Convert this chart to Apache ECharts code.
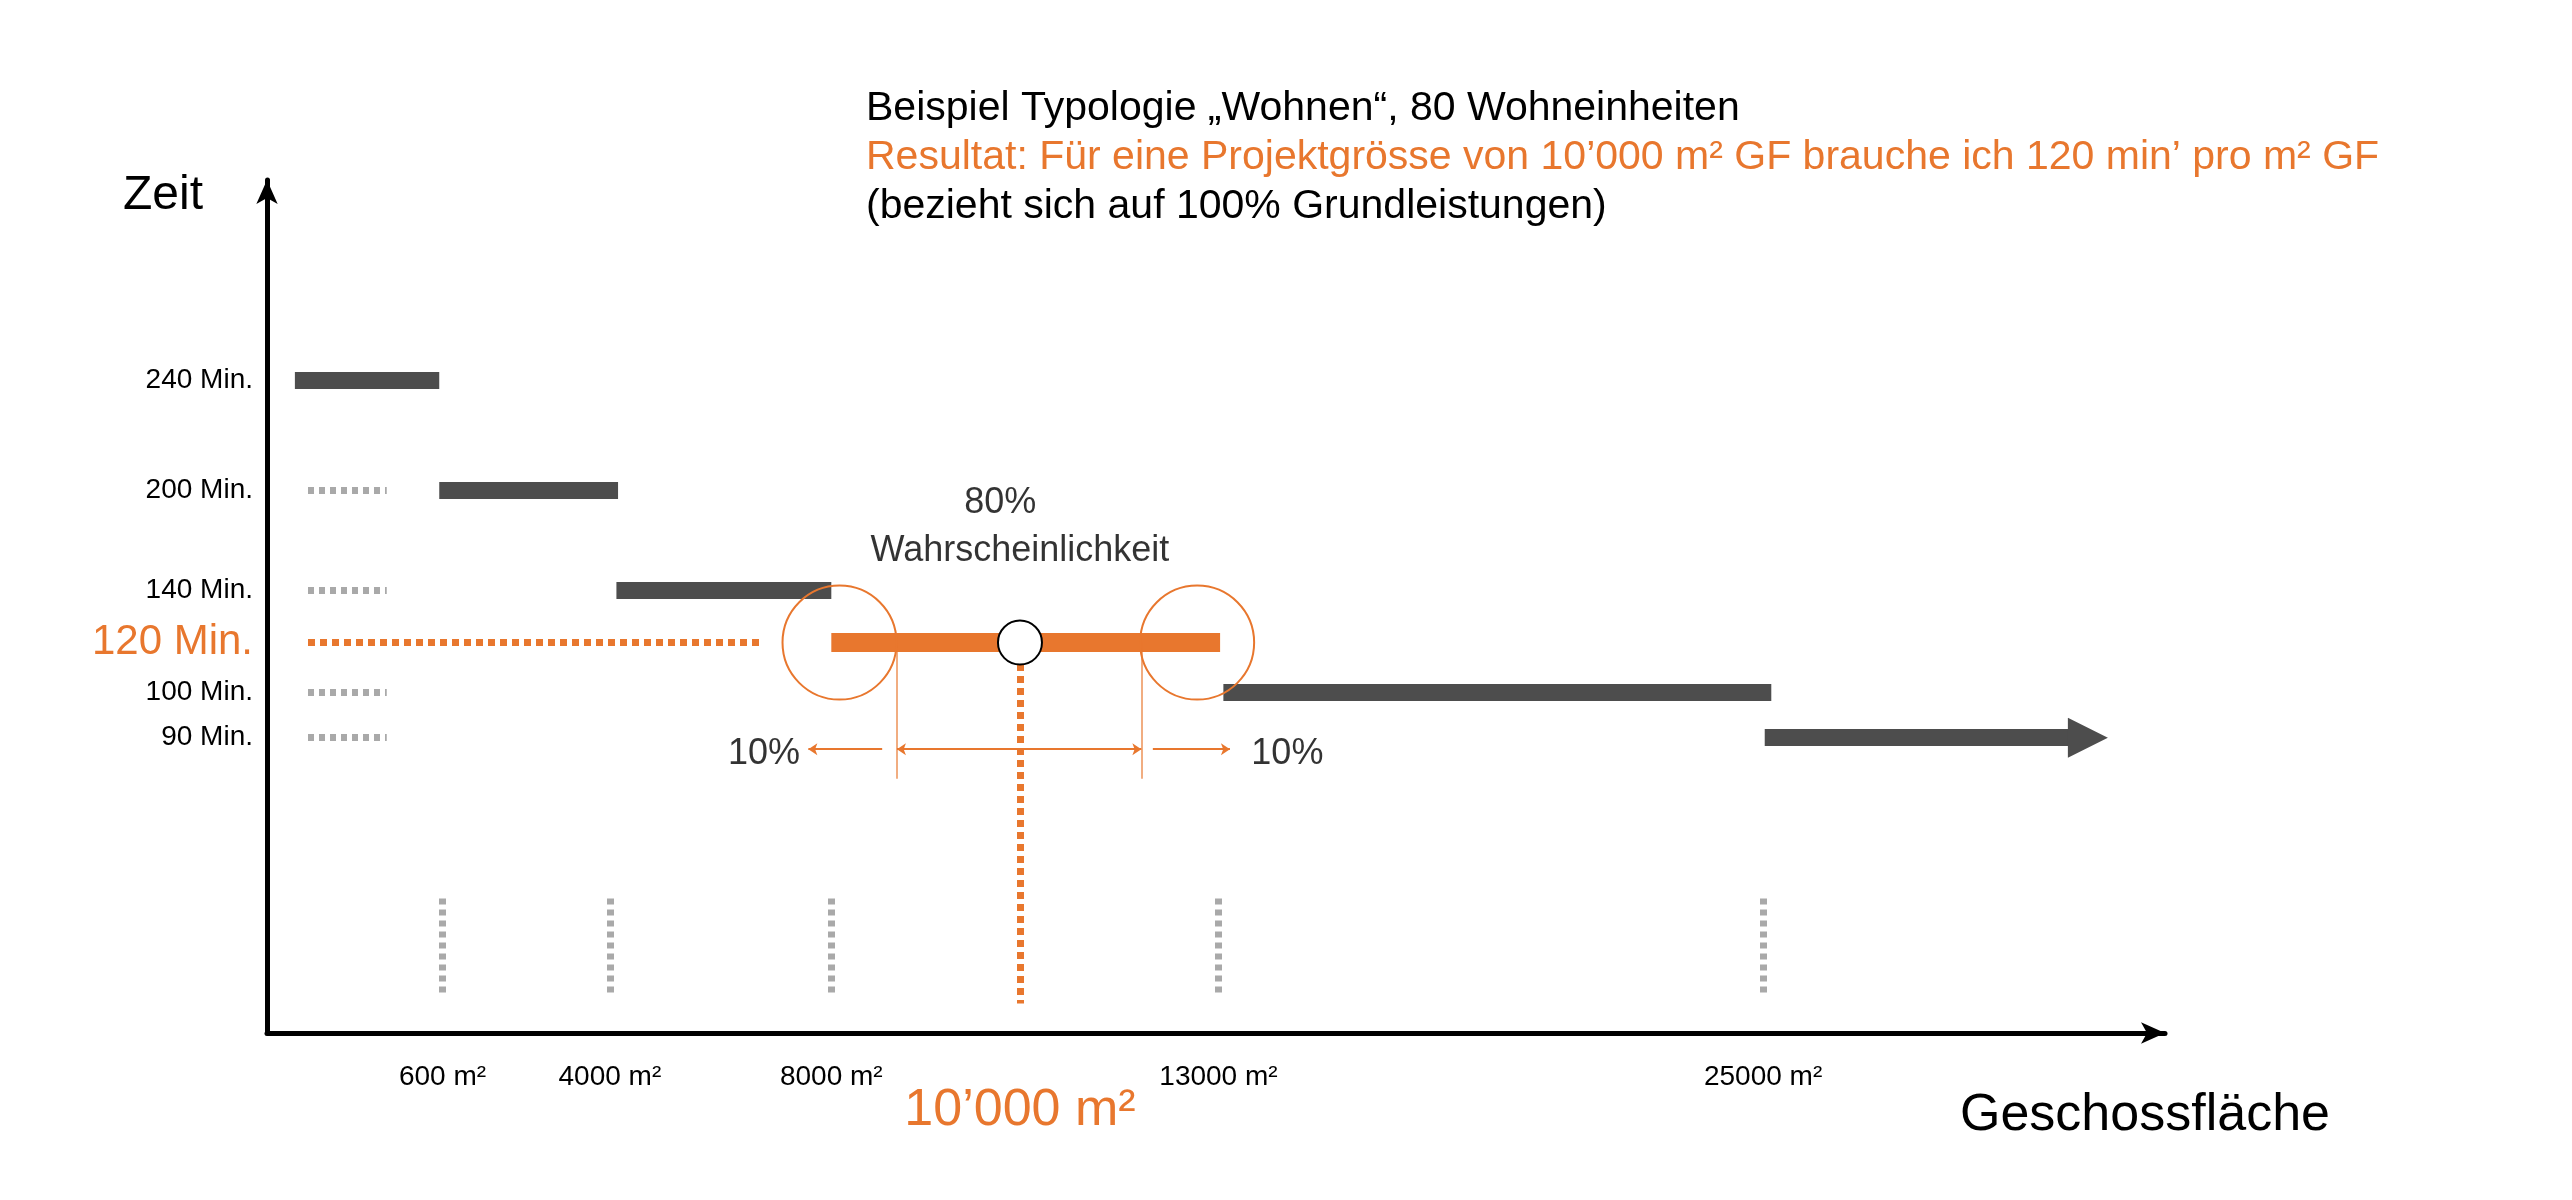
<!DOCTYPE html>
<html>
<head>
<meta charset="utf-8">
<script src="https://cdn.jsdelivr.net/npm/echarts@6/dist/echarts.min.js"></script>
<style>html,body{margin:0;background:#fff}#chart{width:2572px;height:1200px}</style>
</head>
<body>
<div id="chart"></div>
<script>
// schematic units (the drawing is not to scale)
const xBreaks = [107, 209, 344, 459, 580, 912];
const xLabels = ['600 m²', '4000 m²', '8000 m²', '10’000 m²', '13000 m²', '25000 m²'];
const yLevels = [398, 331, 270, 238, 208, 180];
const yLabels = ['240 Min.', '200 Min.', '140 Min.', '120 Min.', '100 Min.', '90 Min.'];

// steps: [x start, x end, y]
const steps = [[17, 105, 398], [105, 214, 331], [213, 344, 270], [583, 917, 208]];
const lastStep = [913, 1110, 180];
const resultBar = [344, 581, 238];
const guideLeft = [[25, 73, 331], [25, 73, 270], [25, 73, 208], [25, 73, 180]];
const guideResult = [25, 302, 238];
const guideDown = [107, 209, 344, 580, 912];
const rangeCircles = [[349, 238], [567, 238]];
const probBounds = [384, 533];

const ORANGE = '#e8772e', DARK = '#4d4d4d', LIGHT = '#a9a9a9';
const FONT = '"Liberation Sans", Arial, sans-serif';

const chart = echarts.init(document.getElementById('chart'));

function seg(x1, x2, y) { return { coords: [[x1, y], [x2, y]] }; }

const textPts = [
  { value: [447, 323], label: { formatter: '80%' } },
  { value: [459, 294], label: { formatter: 'Wahrscheinlichkeit' } },
  { value: [303, 170], label: { formatter: '10%' } },
  { value: [622, 170], label: { formatter: '10%' } }
];

chart.setOption({
  animation: false,
  grid: { left: 267, top: 180, width: 1898, height: 853 },
  xAxis: {
    type: 'value', min: 0, max: 1157,
    splitLine: { show: false },
    axisLine: { lineStyle: { color: '#000', width: 5 }, symbol: ['none', 'arrow'], symbolSize: [16, 24] },
    axisTick: { show: false },
    axisLabel: {
      customValues: xBreaks, margin: 30, fontFamily: FONT, fontSize: 28, color: '#000',
      formatter: v => {
        const i = xBreaks.indexOf(v);
        return i === 3 ? '{o|' + xLabels[i] + '}' : xLabels[i];
      },
      rich: { o: { color: ORANGE, fontSize: 52, fontFamily: FONT, padding: [22, 0, 0, 0] } }
    }
  },
  yAxis: {
    type: 'value', min: 0, max: 520,
    splitLine: { show: false },
    axisLine: { lineStyle: { color: '#000', width: 5 }, symbol: ['none', 'arrow'], symbolSize: [16, 24] },
    axisTick: { show: false },
    axisLabel: {
      customValues: yLevels, margin: 14, fontFamily: FONT, fontSize: 28, color: '#000',
      formatter: v => {
        const i = yLevels.indexOf(v);
        return i === 3 ? '{o|' + yLabels[i] + '}' : yLabels[i];
      },
      rich: { o: { color: ORANGE, fontSize: 42, fontFamily: FONT } }
    }
  },
  series: [
    { type: 'lines', coordinateSystem: 'cartesian2d', silent: true,
      lineStyle: { color: DARK, width: 17, opacity: 1 },
      data: steps.map(s => seg(s[0], s[1], s[2])) },
    { type: 'lines', coordinateSystem: 'cartesian2d', silent: true,
      symbol: ['none', 'triangle'], symbolSize: 40,
      lineStyle: { color: DARK, width: 17, opacity: 1 },
      data: [seg(lastStep[0], lastStep[1], lastStep[2])] },
    { type: 'lines', coordinateSystem: 'cartesian2d', silent: true,
      lineStyle: { color: LIGHT, width: 7, type: [6, 5], opacity: 1 },
      data: guideLeft.map(s => seg(s[0], s[1], s[2]))
        .concat(guideDown.map(x => ({ coords: [[x, 82], [x, 23]] }))) },
    { type: 'lines', coordinateSystem: 'cartesian2d', silent: true,
      lineStyle: { color: ORANGE, width: 7, type: [7, 5], opacity: 1 },
      data: [seg(guideResult[0], guideResult[1], guideResult[2]), { coords: [[459, 225], [459, 18]] }] },
    { type: 'lines', coordinateSystem: 'cartesian2d', silent: true,
      lineStyle: { color: ORANGE, width: 19, opacity: 1 },
      data: [seg(resultBar[0], resultBar[1], resultBar[2])] },
    { type: 'lines', coordinateSystem: 'cartesian2d', silent: true,
      lineStyle: { color: ORANGE, width: 1.5, opacity: 0.8 },
      data: probBounds.map(x => ({ coords: [[x, 238], [x, 155]] })) },
    { type: 'lines', coordinateSystem: 'cartesian2d', silent: true,
      symbol: ['arrow', 'arrow'], symbolSize: 9,
      lineStyle: { color: ORANGE, width: 2, opacity: 1 },
      data: [seg(probBounds[0], probBounds[1], 173)] },
    { type: 'lines', coordinateSystem: 'cartesian2d', silent: true,
      symbol: ['none', 'arrow'], symbolSize: 9,
      lineStyle: { color: ORANGE, width: 2, opacity: 1 },
      data: [seg(375, 330, 173), seg(540, 587, 173)] },
    { type: 'scatter', silent: true, symbolSize: 114,
      itemStyle: { color: 'rgba(0,0,0,0)', borderColor: ORANGE, borderWidth: 2, opacity: 1 },
      data: rangeCircles },
    { type: 'scatter', silent: true, symbolSize: 44, zlevel: 1,
      itemStyle: { color: '#ffffff', borderColor: '#000', borderWidth: 2, opacity: 1 },
      data: [[459, 238]] },
    { type: 'scatter', silent: true, symbolSize: 0,
      label: { show: true, position: 'inside', fontFamily: FONT, fontSize: 36, color: '#000', textBorderWidth: 0 },
      data: textPts }
  ],
  graphic: [
    { type: 'text', left: 866, top: 88, style: { text: 'Beispiel Typologie „Wohnen“, 80 Wohneinheiten', font: '41px ' + FONT, fill: '#000' } },
    { type: 'text', left: 866, top: 137, style: { text: 'Resultat: Für eine Projektgrösse von 10’000 m² GF brauche ich 120 min’ pro m² GF', font: '41px ' + FONT, fill: ORANGE } },
    { type: 'text', left: 866, top: 186, style: { text: '(bezieht sich auf 100% Grundleistungen)', font: '41px ' + FONT, fill: '#000' } },
    { type: 'text', left: 123, top: 172, style: { text: 'Zeit', font: '48px ' + FONT, fill: '#000' } },
    { type: 'text', left: 1960, top: 1090, style: { text: 'Geschossfläche', font: '52px ' + FONT, fill: '#000' } }
  ]
});
</script>
</body>
</html>
